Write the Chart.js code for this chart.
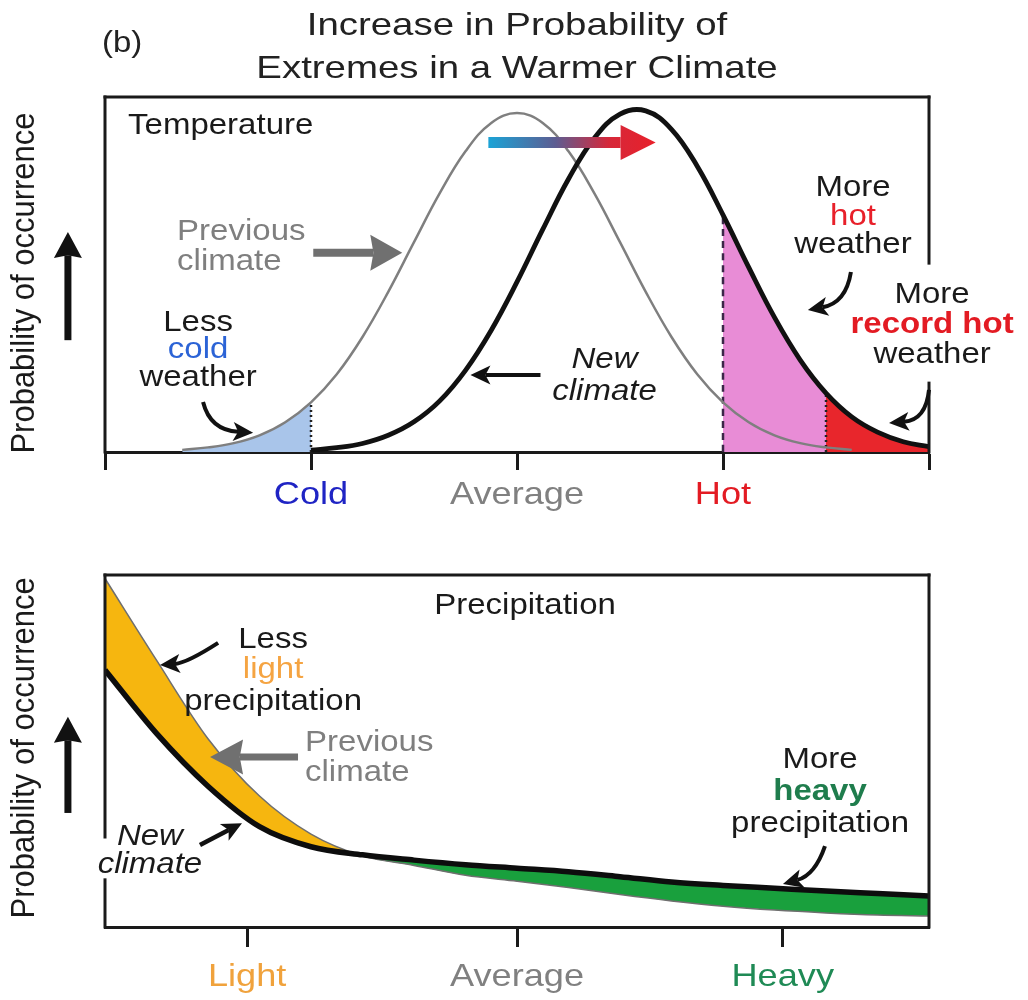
<!DOCTYPE html>
<html>
<head>
<meta charset="utf-8">
<title>Increase in Probability of Extremes in a Warmer Climate</title>
<script src="https://cdn.jsdelivr.net/npm/chart.js@4.4.1/dist/chart.umd.min.js"></script>
<style>
  body { margin: 0; background: #fff; }
  .panel { position: absolute; left: 0; width: 1028px; }
</style>
</head>
<body>
<div class="panel" style="top:0;height:520px"><canvas id="tempChart"></canvas></div>
<div class="panel" style="top:520px;height:480px"><canvas id="precipChart"></canvas></div>
<script>
// ---- temperature panel (x: cold -> hot, y: probability 0..1)
const tempX = [0, 0.125, 0.25, 0.375, 0.5, 0.625, 0.75, 0.875, 1, 1.125, 1.25, 1.375, 1.5, 1.625, 1.75, 1.875,
  2, 2.125, 2.25, 2.375, 2.5, 2.625, 2.75, 2.875, 3, 3.125, 3.25, 3.375, 3.5, 3.625, 3.75, 3.875, 4];
const prevTemp = [null, null, null, 0.006, 0.013, 0.025, 0.047, 0.084, 0.14, 0.219, 0.324, 0.451, 0.591, 0.729, 0.847, 0.927,
  0.955, 0.927, 0.847, 0.729, 0.591, 0.451, 0.324, 0.219, 0.14, 0.084, 0.047, 0.025, 0.013, 0.006, null, null, null];
const newTemp = [null, null, null, null, null, null, null, null, 0.005, 0.012, 0.024, 0.047, 0.085, 0.144, 0.23, 0.343,
  0.479, 0.627, 0.769, 0.884, 0.952, 0.961, 0.909, 0.805, 0.668, 0.52, 0.379, 0.259, 0.166, 0.099, 0.056, 0.029, 0.015];
const tempTicks = [0, 1, 2, 3, 4];
const tempTickLabels = ["", "Cold", "Average", "Hot", ""];
const tempTickColors = ["", "#1f24c4", "#808080", "#e31b23", ""];
const coldEdge = 1;
const hotEdge = 3;
const recordEdge = 3.5;

// ---- precipitation panel (x: light -> heavy)
const precipX = [0, 0.25, 0.5, 0.75, 1, 1.25, 1.5, 1.75, 2, 2.25, 2.5, 2.75, 3, 3.25, 3.5, 3.75, 4];
const prevPrecip = [0.99, 0.758, 0.535, 0.372, 0.264, 0.202, 0.175, 0.147, 0.13, 0.112, 0.092, 0.074, 0.059, 0.048, 0.04, 0.034, 0.031];
const newPrecip = [0.73, 0.55, 0.4, 0.285, 0.228, 0.205, 0.19, 0.177, 0.167, 0.157, 0.143, 0.128, 0.118, 0.11, 0.102, 0.095, 0.088];
const precipTicks = [0.69, 2, 3.29];
const precipTickLabels = ["Light", "Average", "Heavy"];
const precipTickColors = ["#f0a23c", "#808080", "#1f8a55"];

Chart.defaults.font.family = '"Liberation Sans", Arial, sans-serif';

const points = (xs, ys) => xs.map((x, i) => ({ x: x, y: ys[i] }));
const segment = (xs, ys, from, to) => points(xs, ys).filter((p) => p.x >= from && p.x <= to && p.y !== null);
const edge = (xs, ys, at) => [{ x: at, y: 0 }, { x: at, y: ys[xs.indexOf(at)] }];

function drawText(ctx, str, x, y, o) {
  ctx.save();
  ctx.translate(x, y);
  ctx.scale(o.stretch || 1.1, 1);
  if (o.rotate) ctx.rotate(o.rotate);
  ctx.font = (o.style || "normal") + " " + (o.weight || "normal") + " " + (o.size || 30) + 'px "Liberation Sans", Arial, sans-serif';
  ctx.fillStyle = o.color || "#1a1a1a";
  ctx.textAlign = o.align || "center";
  ctx.textBaseline = "middle";
  ctx.fillText(str, 0, 0);
  ctx.restore();
}

function drawArrow(ctx, a, X, Y) {
  const p0 = [X(a.from[0]), Y(a.from[1])];
  const p2 = [X(a.to[0]), Y(a.to[1])];
  const pc = a.ctrl ? [X(a.ctrl[0]), Y(a.ctrl[1])] : p0;
  const ang = Math.atan2(p2[1] - pc[1], p2[0] - pc[0]);
  const len = a.head[0], wid = a.head[1];
  const notch = a.notch === undefined ? 0.25 : a.notch;
  const c = Math.cos(ang), s = Math.sin(ang);
  const ex = p2[0] - c * len * (1 - notch), ey = p2[1] - s * len * (1 - notch);
  let paint = a.color || "#111";
  if (a.gradient) {
    paint = ctx.createLinearGradient(p0[0], 0, p2[0], 0);
    paint.addColorStop(0, "#1ba3d6");
    paint.addColorStop(0.4, "#5d5d92");
    paint.addColorStop(0.72, "#d6283a");
    paint.addColorStop(1, "#e8202a");
  }
  ctx.save();
  ctx.strokeStyle = paint;
  ctx.fillStyle = paint;
  ctx.lineWidth = a.width;
  ctx.lineCap = "butt";
  ctx.beginPath();
  ctx.moveTo(p0[0], p0[1]);
  if (a.ctrl) ctx.quadraticCurveTo(pc[0], pc[1], ex, ey);
  else ctx.lineTo(ex, ey);
  ctx.stroke();
  const bx = p2[0] - c * len, by = p2[1] - s * len;
  ctx.beginPath();
  ctx.moveTo(p2[0], p2[1]);
  ctx.lineTo(bx - s * wid / 2, by + c * wid / 2);
  ctx.lineTo(ex, ey);
  ctx.lineTo(bx + s * wid / 2, by - c * wid / 2);
  ctx.closePath();
  ctx.fill();
  ctx.restore();
}

const sketch = {
  id: "sketch",
  afterDraw(chart, args, opts) {
    const ctx = chart.ctx;
    const xs = chart.scales.x, ys = chart.scales.y;
    const X = (v) => xs.getPixelForValue(v);
    const Y = (v) => ys.getPixelForValue(v);
    ctx.save();
    ctx.strokeStyle = "#1a1a1a";
    ctx.lineWidth = 3;
    ctx.lineCap = "square";
    opts.frame.forEach((f) => {
      ctx.beginPath();
      ctx.moveTo(X(f[0]), Y(f[1]));
      ctx.lineTo(X(f[2]), Y(f[3]));
      ctx.stroke();
    });
    xs.ticks.forEach((t, i) => {
      if (!opts.tickLabels[i]) return;
      drawText(ctx, opts.tickLabels[i], X(t.value), chart.chartArea.bottom + opts.labelOffset,
        { size: 32, stretch: 1.13, color: opts.tickColors[i] });
    });
    opts.arrows.forEach((a) => drawArrow(ctx, a, X, Y));
    opts.texts.forEach((t) => drawText(ctx, t.text, X(t.x), Y(t.y), t));
    ctx.restore();
  },
};

const gray = "#7f7f7f";

new Chart(document.getElementById("tempChart"), {
  type: "line",
  plugins: [sketch],
  data: {
    datasets: [
      { label: "New climate", data: points(tempX, newTemp), borderColor: "#111", borderWidth: 4.8 },
      { label: "Previous climate", data: points(tempX, prevTemp), borderColor: gray, borderWidth: 2.5 },
      { label: "cold edge", data: edge(tempX, prevTemp, coldEdge), borderColor: "#222", borderWidth: 2.5, borderDash: [2, 3] },
      { label: "hot edge", data: edge(tempX, newTemp, hotEdge), borderColor: "#3b2648", borderWidth: 2.5, borderDash: [7, 5] },
      { label: "record edge", data: edge(tempX, newTemp, recordEdge), borderColor: "#222", borderWidth: 2.5, borderDash: [2, 3] },
      { label: "Less cold", data: segment(tempX, prevTemp, 0, coldEdge), fill: "origin", backgroundColor: "#a9c5ea", borderColor: "transparent", borderWidth: 0 },
      { label: "More hot", data: segment(tempX, newTemp, hotEdge, recordEdge), fill: "origin", backgroundColor: "#e88cd6", borderColor: "transparent", borderWidth: 0 },
      { label: "More record hot", data: segment(tempX, newTemp, recordEdge, 4), fill: "origin", backgroundColor: "#e8262c", borderColor: "transparent", borderWidth: 0 },
    ],
  },
  options: {
    responsive: true,
    maintainAspectRatio: false,
    animation: false,
    events: [],
    elements: { point: { radius: 0 }, line: { tension: 0.4, fill: false } },
    layout: { padding: { left: 105, right: 99, top: 97, bottom: 0 } },
    scales: {
      x: {
        type: "linear",
        min: 0,
        max: 4,
        z: 1,
        afterBuildTicks: (scale) => { scale.ticks = tempTicks.map((v) => ({ value: v })); },
        afterFit: (scale) => { scale.height = 68; },
        ticks: { display: false },
        grid: { drawOnChartArea: false, drawTicks: true, tickLength: 18, tickWidth: 3, tickColor: "#1a1a1a" },
        border: { display: true, width: 3, color: "#1a1a1a" },
      },
      y: { min: 0, max: 1, display: false },
    },
    plugins: {
      legend: { display: false },
      tooltip: { enabled: false },
      sketch: {
        frame: [[0, 0, 0, 1], [0, 1, 4, 1], [4, 1, 4, 0.532], [4, 0.194, 4, 0]],
        tickLabels: tempTickLabels,
        tickColors: tempTickColors,
        labelOffset: 43,
        arrows: [
          { from: [-0.18, 0.315], to: [-0.18, 0.62], width: 7, head: [26, 28], notch: 0.1 },
          { from: [1.861, 0.872], to: [2.673, 0.872], width: 11, head: [35, 35], notch: 0, gradient: true },
          { from: [1.011, 0.561], to: [1.443, 0.561], width: 8, head: [32, 36], notch: 0.1, color: "#707070" },
          { from: [0.476, 0.141], ctrl: [0.51, 0.062], to: [0.719, 0.054], width: 4, head: [20, 19] },
          { from: [2.114, 0.217], to: [1.774, 0.217], width: 4, head: [20, 19] },
          { from: [3.621, 0.507], ctrl: [3.597, 0.42], to: [3.412, 0.4], width: 4, head: [20, 19] },
          { from: [4.0, 0.175], ctrl: [3.985, 0.09], to: [3.806, 0.082], width: 4, head: [20, 19] },
        ],
        texts: [
          { text: "Increase in Probability of", x: 2.0, y: 1.2, size: 32, stretch: 1.2, color: "#222" },
          { text: "Extremes in a Warmer Climate", x: 2.0, y: 1.079, size: 32, stretch: 1.2, color: "#222" },
          { text: "(b)", x: 0.083, y: 1.149, size: 30, color: "#222" },
          { text: "Probability of occurrence", x: -0.389, y: 0.476, size: 31, rotate: -Math.PI / 2 },
          { text: "Temperature", x: 0.112, y: 0.918, align: "left" },
          { text: "Previous", x: 0.35, y: 0.62, align: "left", color: gray },
          { text: "climate", x: 0.35, y: 0.535, align: "left", color: gray },
          { text: "Less", x: 0.452, y: 0.363 },
          { text: "cold", x: 0.452, y: 0.287, color: "#2b63d6" },
          { text: "weather", x: 0.452, y: 0.208 },
          { text: "New", x: 2.425, y: 0.259, style: "italic" },
          { text: "climate", x: 2.425, y: 0.169, style: "italic" },
          { text: "More", x: 3.631, y: 0.744 },
          { text: "hot", x: 3.631, y: 0.662, color: "#e8202a" },
          { text: "weather", x: 3.631, y: 0.583 },
          { text: "More", x: 4.015, y: 0.442 },
          { text: "record hot", x: 4.015, y: 0.358, weight: "bold", color: "#e31b23" },
          { text: "weather", x: 4.015, y: 0.273 },
        ],
      },
    },
  },
});

new Chart(document.getElementById("precipChart"), {
  type: "line",
  plugins: [sketch],
  data: {
    datasets: [
      { label: "New climate", data: points(precipX, newPrecip), borderColor: "#0d0d0d", borderWidth: 5.5 },
      {
        label: "Previous climate",
        data: points(precipX, prevPrecip),
        borderColor: "#6f6f6f",
        borderWidth: 1.5,
        fill: { target: 0, above: "#f6b60f", below: "#19a03d" },
      },
    ],
  },
  options: {
    responsive: true,
    maintainAspectRatio: false,
    animation: false,
    events: [],
    elements: { point: { radius: 0 }, line: { cubicInterpolationMode: "monotone", fill: false } },
    layout: { padding: { left: 105, right: 99, top: 55, bottom: 0 } },
    scales: {
      x: {
        type: "linear",
        min: 0,
        max: 4,
        z: 1,
        afterBuildTicks: (scale) => { scale.ticks = precipTicks.map((v) => ({ value: v })); },
        afterFit: (scale) => { scale.height = 73; },
        ticks: { display: false },
        grid: { drawOnChartArea: false, drawTicks: true, tickLength: 20, tickWidth: 3, tickColor: "#1a1a1a" },
        border: { display: true, width: 3, color: "#1a1a1a" },
      },
      y: { min: 0, max: 1, display: false },
    },
    plugins: {
      legend: { display: false },
      tooltip: { enabled: false },
      sketch: {
        frame: [[0, 0, 0, 0.134], [0, 0.256, 0, 1], [0, 1, 4, 1], [4, 1, 4, 0]],
        tickLabels: precipTickLabels,
        tickColors: precipTickColors,
        labelOffset: 50,
        arrows: [
          { from: [-0.18, 0.324], to: [-0.18, 0.597], width: 7, head: [26, 28], notch: 0.1 },
          { from: [0.549, 0.807], ctrl: [0.398, 0.75], to: [0.267, 0.744], width: 4, head: [20, 19] },
          { from: [0.937, 0.483], to: [0.51, 0.483], width: 7, head: [33, 35], notch: 0.1, color: "#707070" },
          { from: [0.461, 0.233], to: [0.665, 0.295], width: 4.5, head: [20, 19] },
          { from: [3.495, 0.23], ctrl: [3.447, 0.148], to: [3.291, 0.122], width: 4, head: [20, 19] },
        ],
        texts: [
          { text: "Probability of occurrence", x: -0.388, y: 0.509, size: 31, rotate: -Math.PI / 2 },
          { text: "Precipitation", x: 2.039, y: 0.912 },
          { text: "Less", x: 0.816, y: 0.815 },
          { text: "light", x: 0.816, y: 0.73, color: "#f5a442" },
          { text: "precipitation", x: 0.816, y: 0.639 },
          { text: "Previous", x: 0.971, y: 0.523, align: "left", color: gray },
          { text: "climate", x: 0.971, y: 0.4375, align: "left", color: gray },
          { text: "New", x: 0.218, y: 0.256, style: "italic" },
          { text: "climate", x: 0.218, y: 0.176, style: "italic" },
          { text: "More", x: 3.471, y: 0.474 },
          { text: "heavy", x: 3.471, y: 0.384, weight: "bold", color: "#1f7d4d" },
          { text: "precipitation", x: 3.471, y: 0.293 },
        ],
      },
    },
  },
});
</script>
</body>
</html>
